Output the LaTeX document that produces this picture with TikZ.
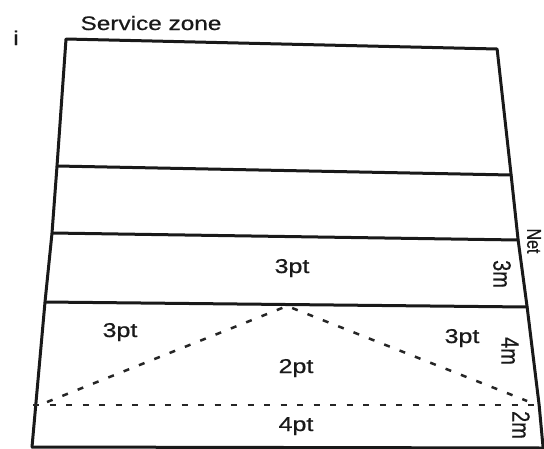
\documentclass[tikz,border=0pt]{standalone}
\usepackage{fontspec}
\setmainfont{Liberation Sans}[FakeBold=0.6]
\begin{document}
\begin{tikzpicture}[x=0.8pt,y=-1pt,xscale=1.25,
  courtline/.style={line width=3pt, line cap=round, line join=round, draw=black!90},
  dashline/.style={line width=2.5pt, dash pattern=on 6pt off 10.5pt, draw=black!85},
  lbl/.style={font=\fontsize{20}{24}\selectfont, transform shape, inner sep=0pt, anchor=base, text=black!90},
  vlbl/.style={font=\fontsize{20}{24}\selectfont, transform shape, rotate=-90, inner sep=0pt, anchor=center, text=black!90}]
\useasboundingbox (0,0) rectangle (544,448);
% left side points
\coordinate (L1) at (66,39);
\coordinate (L2) at (57,166);
\coordinate (L3) at (52,233);
\coordinate (L4) at (45,302);
\coordinate (L5) at (38,380);
\coordinate (L6) at (32,447);
% right side points
\coordinate (R1) at (497,49);
\coordinate (R2) at (511,175);
\coordinate (R3) at (518,240);
\coordinate (R4) at (527,307);
\coordinate (R5) at (539,405);
\coordinate (R6) at (543,448);
% sides and cross lines
\draw[courtline] (L6) -- (L5) -- (L4) -- (L3) -- (L2) -- (L1) -- (R1) -- (R2) -- (R3) -- (R4) -- (R5) -- (R6);
\draw[courtline] (L2) -- (R2);
\draw[courtline] (L3) -- (R3);
\draw[courtline] (L4) -- (R4);
\draw[courtline] (L6) -- (R6);
% dashed lines
\coordinate (DA) at (47,402);
\coordinate (DP) at (287,306);
\coordinate (DR) at (527,401);
\coordinate (HL) at (33,405);
\coordinate (HR) at (539,405);
\draw[dashline] (DA) -- (DP) -- (DR);
\draw[dashline] (HL) -- (HR);
% labels
\node[lbl] (iq) at (16,45) {i};
\node[lbl, font=\fontsize{19.5}{23}\selectfont] (sz) at (151,30) {Service zone};
\node[lbl] (p3a) at (292,273) {3pt};
\node[lbl] (p3b) at (120,337) {3pt};
\node[lbl] (p3c) at (462,343) {3pt};
\node[lbl] (p2) at (296,373) {2pt};
\node[lbl] (p4) at (296,431) {4pt};
\node[vlbl, font=\fontsize{16}{20}\selectfont] (net) at (534,241) {Net};
\node[vlbl] (m3) at (502,274) {3m};
\node[vlbl] (m4) at (510,351) {4m};
\node[vlbl] (m2) at (521,425) {2m};
\end{tikzpicture}
\end{document}
